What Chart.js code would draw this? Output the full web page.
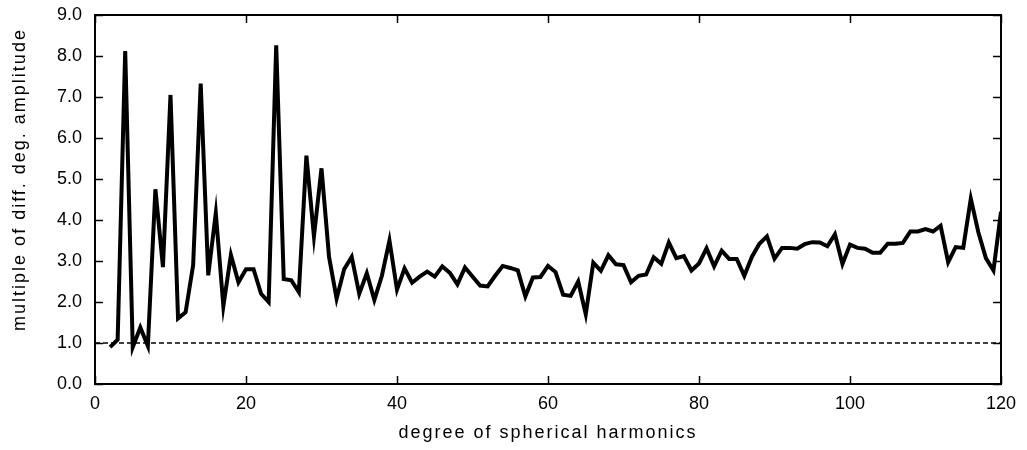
<!DOCTYPE html>
<html>
<head>
<meta charset="utf-8">
<script src="https://cdn.jsdelivr.net/npm/chart.js@4"></script>
<style>
  html, body { margin: 0; padding: 0; background: #fff; }
  #wrap { width: 1027px; height: 450px; }
</style>
</head>
<body>
<div id="wrap"><canvas id="ampChart"></canvas></div>
<script>
// degree of spherical harmonics (x)
const degrees = [2, 3, 4, 5, 6, 7, 8, 9, 10, 11, 12, 13, 14, 15, 16, 17, 18, 19, 20, 21,
  22, 23, 24, 25, 26, 27, 28, 29, 30, 31, 32, 33, 34, 35, 36, 37, 38, 39, 40, 41,
  42, 43, 44, 45, 46, 47, 48, 49, 50, 51, 52, 53, 54, 55, 56, 57, 58, 59, 60, 61,
  62, 63, 64, 65, 66, 67, 68, 69, 70, 71, 72, 73, 74, 75, 76, 77, 78, 79, 80, 81,
  82, 83, 84, 85, 86, 87, 88, 89, 90, 91, 92, 93, 94, 95, 96, 97, 98, 99, 100, 101,
  102, 103, 104, 105, 106, 107, 108, 109, 110, 111, 112, 113, 114, 115, 116, 117, 118, 119, 120];

// multiple of diff. deg. amplitude (y)
const amplitude = [0.9, 1.08, 8.12, 0.9, 1.38, 0.93, 4.75, 2.85, 7.05, 1.6,
  1.75, 2.9, 7.33, 2.65, 4.17, 1.9, 3.15, 2.48, 2.8, 2.8,
  2.2, 2.0, 8.26, 2.56, 2.53, 2.24, 5.57, 3.6, 5.26, 3.1,
  2.08, 2.8, 3.1, 2.2, 2.7, 2.05, 2.64, 3.5, 2.3, 2.82,
  2.47, 2.62, 2.74, 2.62, 2.87, 2.71, 2.43, 2.84, 2.62, 2.4,
  2.38, 2.64, 2.88, 2.83, 2.77, 2.14, 2.6, 2.61, 2.88, 2.73,
  2.18, 2.15, 2.5, 1.7, 2.96, 2.76, 3.14, 2.92, 2.9, 2.48,
  2.64, 2.67, 3.09, 2.93, 3.45, 3.07, 3.12, 2.77, 2.94, 3.31,
  2.87, 3.25, 3.05, 3.05, 2.64, 3.1, 3.42, 3.6, 3.06, 3.32,
  3.32, 3.3, 3.41, 3.46, 3.45, 3.36, 3.65, 2.93, 3.4, 3.32,
  3.3, 3.2, 3.2, 3.42, 3.42, 3.44, 3.72, 3.72, 3.78, 3.72,
  3.86, 2.97, 3.34, 3.32, 4.52, 3.7, 3.07, 2.77, 4.2];

// reference level (dashed)
const refX = [0, 120];
const refY = [1, 1];

const xTicks = [0, 20, 40, 60, 80, 100, 120];
const yTicks = [0, 1, 2, 3, 4, 5, 6, 7, 8, 9];

const FONT = "'Liberation Sans', Arial, Helvetica, sans-serif";

// wider spacing on the axis titles, y title sits a bit higher
if (Chart.LinearScale && Chart.LinearScale.prototype.drawTitle) {
  const origTitle = Chart.LinearScale.prototype.drawTitle;
  Chart.LinearScale.prototype.drawTitle = function() {
    this.ctx.save();
    this.ctx.letterSpacing = '2px';
    if (this.axis === 'y') this.ctx.translate(0, -20);
    origTitle.apply(this, arguments);
    this.ctx.restore();
  };
}

// box around plot with inward ticks on all four sides
const framePlugin = {
  id: 'frame',
  afterDraw(chart) {
    const ctx = chart.ctx;
    const a = chart.chartArea;
    const xs = chart.scales.x, ys = chart.scales.y;
    const len = 8;
    ctx.save();
    ctx.strokeStyle = '#000';
    ctx.lineWidth = 1.5;
    ctx.beginPath();
    xTicks.forEach(v => {
      const px = Math.round(xs.getPixelForValue(v)) + 0.5;
      ctx.moveTo(px, a.bottom); ctx.lineTo(px, a.bottom - len);
      ctx.moveTo(px, a.top); ctx.lineTo(px, a.top + len);
    });
    yTicks.forEach(v => {
      const py = Math.round(ys.getPixelForValue(v)) + 0.5;
      ctx.moveTo(a.left, py); ctx.lineTo(a.left + len, py);
      ctx.moveTo(a.right, py); ctx.lineTo(a.right - len, py);
    });
    ctx.stroke();
    ctx.lineWidth = 2;
    ctx.strokeRect(a.left, a.top, a.right - a.left, a.bottom - a.top);
    ctx.restore();
  }
};

const ctx = document.getElementById('ampChart').getContext('2d');
const ampChart = new Chart(ctx, {
  type: 'line',
  data: {
    datasets: [{
      data: degrees.map((d, i) => ({ x: d, y: amplitude[i] })),
      borderColor: '#000',
      borderWidth: 4,
      borderJoinStyle: 'miter',
      pointRadius: 0,
      tension: 0,
      fill: false
    }, {
      data: refX.map((d, i) => ({ x: d, y: refY[i] })),
      borderColor: '#000',
      borderWidth: 1.3,
      borderDash: [5, 3],
      pointRadius: 0,
      fill: false
    }]
  },
  options: {
    responsive: true,
    maintainAspectRatio: false,
    animation: false,
    layout: { padding: { left: 0, right: 26, top: 15, bottom: 0 } },
    plugins: {
      legend: { display: false },
      tooltip: { enabled: false }
    },
    scales: {
      x: {
        type: 'linear',
        min: 0,
        max: 120,
        afterFit: s => { s.height = 66; s.paddingLeft = 0; s.paddingRight = 0; },
        afterBuildTicks: s => { s.ticks = xTicks.map(v => ({ value: v })); },
        grid: { display: false, drawTicks: false },
        border: { display: false },
        ticks: {
          color: '#000',
          padding: 9,
          maxRotation: 0,
          font: { family: FONT, size: 18 },
          callback: v => String(v)
        },
        title: {
          display: true,
          text: 'degree of spherical harmonics',
          color: '#000',
          padding: 6,
          font: { family: FONT, size: 18 }
        }
      },
      y: {
        type: 'linear',
        min: 0,
        max: 9,
        afterFit: s => { s.width = 95; s.paddingTop = 0; s.paddingBottom = 0; },
        afterBuildTicks: s => { s.ticks = yTicks.map(v => ({ value: v })); },
        grid: { display: false, drawTicks: false },
        border: { display: false },
        ticks: {
          color: '#000',
          padding: 13,
          font: { family: FONT, size: 18 },
          callback: v => v.toFixed(1)
        },
        title: {
          display: true,
          text: 'multiple of diff. deg. amplitude',
          color: '#000',
          padding: 9,
          font: { family: FONT, size: 18 }
        }
      }
    }
  },
  plugins: [framePlugin]
});
</script>
</body>
</html>
